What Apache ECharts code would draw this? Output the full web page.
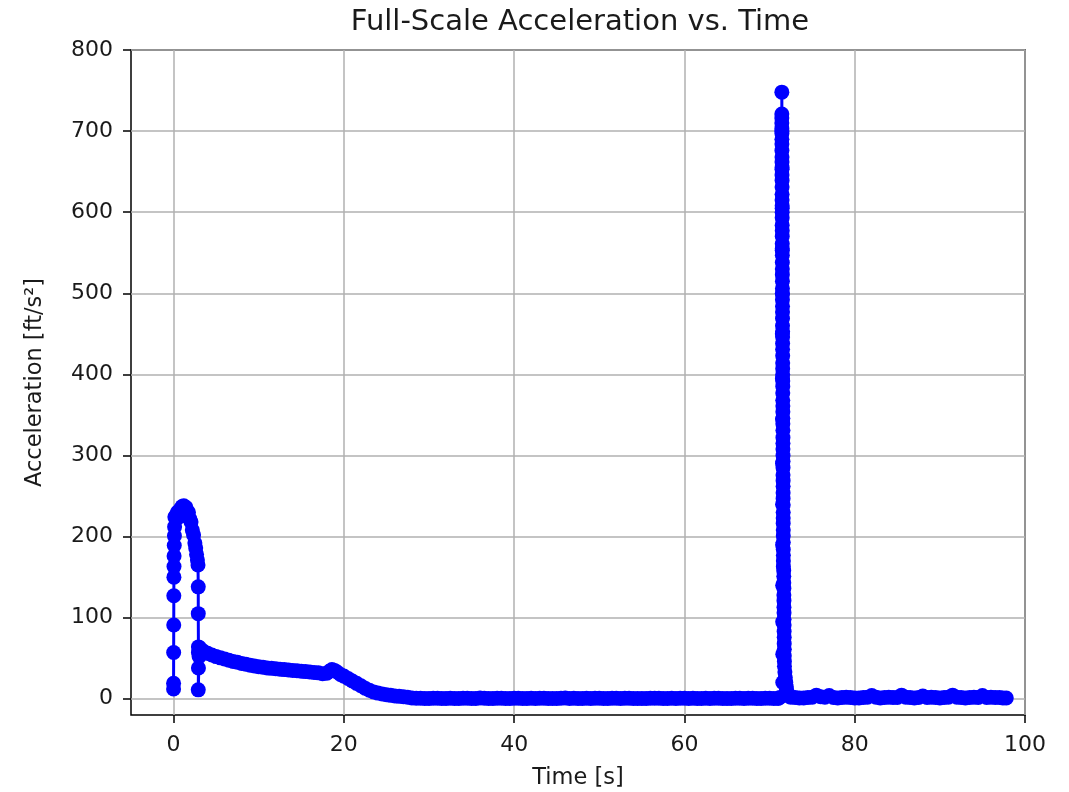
<!DOCTYPE html>
<html><head><meta charset="utf-8">
<script src="https://cdn.jsdelivr.net/npm/echarts@6/dist/echarts.min.js"></script>
<style>html,body{margin:0;padding:0;background:#fff}#c{width:1069px;height:792px}</style>
</head><body><div id="c"></div>
<script>
const xTicks = [0, 20, 40, 60, 80, 100];
const yTicks = [0, 100, 200, 300, 400, 500, 600, 700, 800];

// [time s, acceleration ft/s^2]
const launchPoints = [
  [0,12],[0,19],[0.01,57],[0.02,91],[0.03,127],[0.04,150],[0.05,163],[0.06,176],[0.08,189],[0.1,201],[0.12,212],[0.15,224],
  [0.3,226],[0.45,230],[0.6,224],[0.75,233],[0.9,228],[1.0,237],[1.1,231],[1.2,238],[1.3,233],[1.45,236],[1.6,229],
  [1.75,230],[1.9,222],[2.05,218],[2.2,208],[2.35,202],[2.5,192],[2.6,186],[2.7,178],[2.8,171],[2.87,165],
  [2.9,138],[2.9,105],[2.92,64],[2.92,57],[2.92,38],[2.9,11]
];
const coastPoints = [
  [3.0,52],[3.05,63],[3.3,60],[3.6,58],[4,56],[4.5,54],[5,52],[5.5,50.5],[6,49],[6.5,47.5],[7,46],[7.5,45],
  [8,43.5],[8.5,42.5],[9,41.5],[9.5,40.5],[10,39.5],[10.5,39],[11,38],[11.5,37.5],[12,37],[12.5,36.5],[13,36],
  [13.5,35.5],[14,35],[14.5,34.5],[15,34],[15.5,33.5],[16,33],[16.5,32.5],[17,32],[17.5,31],[18,31.5],[18.3,34],
  [18.6,36],[18.9,35],[19.2,33],[19.6,30],[20,28],[20.5,25],[21,22],[21.5,19],[22,16],[22.5,13],[23,10.5],
  [23.5,8.5],[24,7],[24.5,6],[25,5],[25.5,4.2],[26,3.5],[26.5,3],[27,2.5],[27.5,1.8],[28,1]
];
const descentPoints = [
  [28.5,0.8],[29,0.6],[29.5,0.5],[30,0.4],[30.5,0.7],[31,0.8],[31.5,0.5],[32,0.5],[32.5,0.6],[33,0.3],[33.5,0.5],
  [34,0.7],[34.5,0.6],[35,0.5],[35.5,0.4],[36,0.9],[36.5,0.6],[37,0.4],[37.5,0.5],[38,0.6],[38.5,0.7],[39,0.5],
  [39.5,0.4],[40,0.8],[40.5,0.6],[41,0.3],[41.5,0.5],[42,0.6],[42.5,0.5],[43,0.7],[43.5,0.6],[44,0.4],[44.5,0.5],
  [45,0.5],[45.5,0.7],[46,0.9],[46.5,0.5],[47,0.6],[47.5,0.4],[48,0.3],[48.5,0.6],[49,0.5],[49.5,0.6],[50,0.7],
  [50.5,0.5],[51,0.4],[51.5,0.6],[52,0.6],[52.5,0.5],[53,0.8],[53.5,0.6],[54,0.5],[54.5,0.4],[55,0.3],[55.5,0.5],
  [56,0.6],[56.5,0.7],[57,0.7],[57.5,0.5],[58,0.4],[58.5,0.6],[59,0.5],[59.5,0.6],[60,0.8],[60.5,0.5],[61,0.6],
  [61.5,0.4],[62,0.4],[62.5,0.6],[63,0.5],[63.5,0.7],[64,0.7],[64.5,0.5],[65,0.3],[65.5,0.5],[66,0.6],[66.5,0.6],
  [67,0.5],[67.5,0.7],[68,0.8],[68.5,0.5],[69,0.4],[69.5,0.6],[70,0.6],[70.5,0.5],[71,0.5],[71.2,1.5]
];
const spikePoints = [
  [71.55,20],[71.55,55],[71.54,95],[71.54,140],[71.53,190],[71.53,240],[71.52,290],[71.52,345],[71.51,395],
  [71.5,450],[71.5,500],[71.49,555],[71.48,605],[71.47,655],[71.45,700],[71.44,748],
  [71.44,721],[71.44,716],[71.44,710],[71.44,703],[71.45,697],[71.45,690],[71.45,684],[71.45,676],[71.46,668],
  [71.46,662],[71.46,653],[71.46,646],[71.47,639],[71.47,631],[71.47,622],[71.47,615],[71.48,608],[71.48,600],
  [71.48,593],[71.48,584],[71.49,577],[71.49,570],[71.49,561],[71.49,553],[71.5,547],[71.5,538],[71.5,530],
  [71.5,523],[71.51,515],[71.51,506],[71.51,499],[71.51,492],[71.52,484],[71.52,477],[71.52,469],[71.52,460],
  [71.53,453],[71.53,446],[71.53,438],[71.53,431],[71.54,423],[71.54,414],[71.54,407],[71.54,400],[71.55,392],
  [71.55,385],[71.55,377],[71.55,368],[71.56,361],[71.56,354],[71.56,346],[71.56,339],[71.57,331],[71.57,322],
  [71.57,315],[71.57,308],[71.58,300],[71.58,293],[71.58,285],[71.58,276],[71.59,269],[71.59,262],[71.59,254],
  [71.59,247],[71.6,239],[71.6,230],[71.6,223],[71.6,216],[71.61,208],[71.61,201],[71.61,193],[71.61,184],
  [71.62,177],[71.62,170],[71.62,163],
  [71.66,158],[71.67,151],[71.67,143],[71.68,136],[71.68,128],[71.69,121],[71.69,113],[71.7,106],[71.7,98],
  [71.71,91],[71.71,83],[71.72,76],[71.72,68],[71.73,61],[71.73,53],[71.74,46],[71.75,40],[71.8,33],[71.85,26],
  [71.9,20],[71.95,15],[72.0,11],[72.1,7],[72.2,5],[72.35,3],[72.5,2]
];
const tailPoints = [
  [73,1.5],[73.5,1],[74,1],[74.5,1.5],[75,2],[75.5,4.5],[76,2.5],[76.5,2],[77,4],[77.5,1.5],[78,1],[78.5,1.5],
  [79,2],[79.5,1.5],[80,1],[80.5,1],[81,1.5],[81.5,2],[82,4],[82.5,2],[83,1],[83.5,1.5],[84,2],[84.5,1.5],[85,1.5],
  [85.5,4.5],[86,2],[86.5,1.5],[87,1],[87.5,1.5],[88,3.5],[88.5,1.5],[89,2],[89.5,1.5],[90,1],[90.5,1.5],[91,2],
  [91.5,4.5],[92,2],[92.5,1.5],[93,1],[93.5,1.5],[94,2],[94.5,1.5],[95,4],[95.5,1.5],[96,2],[96.5,1.5],[97,1.5],
  [97.4,1],[97.8,1]
];

const allPoints = [].concat(launchPoints, coastPoints, descentPoints, spikePoints, tailPoints);

const font = 'DejaVu Sans';
const txt = '#1a1a1a';
const chart = echarts.init(document.getElementById('c'), null, {renderer: 'canvas'});
chart.setOption({
  animation: false,
  backgroundColor: '#fff',
  title: {
    text: 'Full-Scale Acceleration vs. Time',
    left: 575, top: 3, textAlign: 'center',
    textStyle: {fontFamily: font, fontSize: 29, fontWeight: 'normal', color: txt}
  },
  grid: {left: 131, right: 44, top: 50, bottom: 77, show: true, borderColor: '#000', borderWidth: 1.5,
         backgroundColor: 'transparent', containLabel: false, outerBoundsMode: 'none'},
  xAxis: {
    type: 'value', min: -5, max: 100,
    name: 'Time [s]', nameLocation: 'middle', nameGap: 52,
    nameTextStyle: {fontFamily: font, fontSize: 22.5, color: txt},
    axisLine: {show: false, onZero: false},
    axisTick: {show: true, inside: false, length: 8, lineStyle: {color: '#000', width: 1.5}, customValues: xTicks},
    axisLabel: {fontFamily: font, fontSize: 22, color: txt, margin: 19, customValues: xTicks},
    splitLine: {show: true, lineStyle: {color: '#b0b0b0', width: 1.5}}
  },
  yAxis: {
    type: 'value', min: -20, max: 800,
    name: 'Acceleration [ft/s²]', nameLocation: 'middle', nameGap: 84, nameRotate: 90,
    nameTextStyle: {fontFamily: font, fontSize: 22.5, color: txt},
    axisLine: {show: false, onZero: false},
    axisTick: {show: true, inside: false, length: 8, lineStyle: {color: '#000', width: 1.5}, customValues: yTicks},
    axisLabel: {fontFamily: font, fontSize: 22, color: txt, margin: 18, customValues: yTicks},
    splitLine: {show: true, lineStyle: {color: '#b0b0b0', width: 1.5}}
  },
  series: [{
    type: 'line',
    data: allPoints,
    symbol: 'circle', symbolSize: 15, showSymbol: true, showAllSymbol: true,
    itemStyle: {color: '#0000ff'},
    lineStyle: {color: '#0000ff', width: 3},
    emphasis: {disabled: true},
    clip: true
  }]
});
</script>
</body></html>
